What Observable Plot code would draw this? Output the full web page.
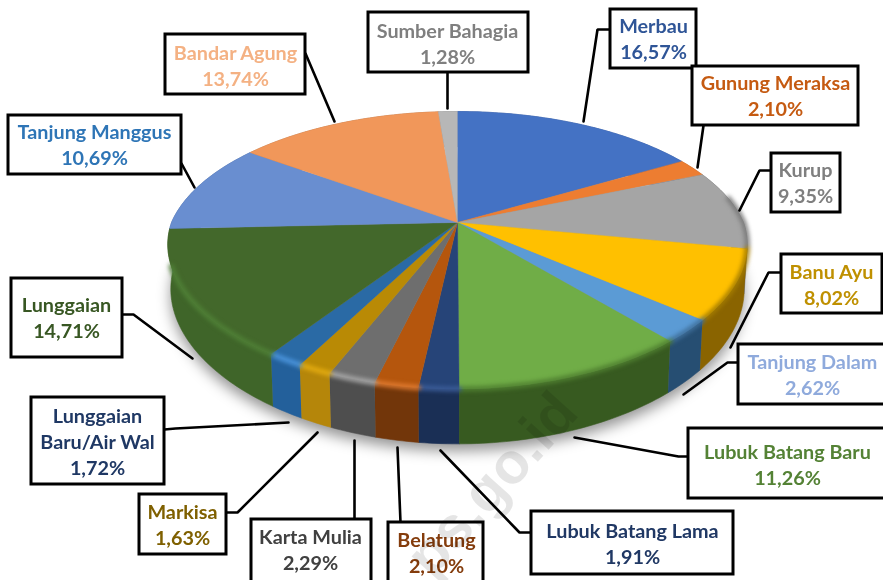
<!DOCTYPE html>
<html><head><meta charset="utf-8">
<style>
html,body{margin:0;padding:0;background:#fff}
svg{display:block}
[aria-description="pie-shadow"]{filter:blur(7px)}
[aria-description="pie-rim"]{filter:blur(2.2px)}
[aria-description="pie-top"],[aria-description="pie-wall"]{filter:blur(.5px)}
[aria-description="label-text"]{filter:blur(.25px)}
[aria-description="watermark"]{filter:blur(.6px)}
</style>
<script src="https://cdn.jsdelivr.net/npm/d3@7"></script>
<script src="https://cdn.jsdelivr.net/npm/@observablehq/plot@0.6"></script>
</head><body><div id="chart"></div>
<script>
const names = ["Merbau","Gunung Meraksa","Kurup","Banu Ayu","Tanjung Dalam","Lubuk Batang Baru","Lubuk Batang Lama","Belatung","Karta Mulia","Markisa","Lunggaian Baru/Air Wal","Lunggaian","Tanjung Manggus","Bandar Agung","Sumber Bahagia"];
const shares = [16.57,2.10,9.35,8.02,2.62,11.26,1.91,2.10,2.29,1.63,1.72,14.71,10.69,13.74,1.28];
const shareLabels = ["16,57%","2,10%","9,35%","8,02%","2,62%","11,26%","1,91%","2,10%","2,29%","1,63%","1,72%","14,71%","10,69%","13,74%","1,28%"];
const topColors = ["#4472C4","#ED7D31","#A5A5A5","#FFC000","#5B9BD5","#70AD47","#264478","#B5560D","#6E6E6E","#B98A05","#2A6AA5","#43682B","#698ED0","#F1975A","#B7B7B7"];
const wallColors = ["#35599a","#b85f24","#6e6e6e","#8a6400","#264e72","#375a20","#1a2f55","#72360a","#4e4e4e","#b5860a","#23609b","#3f6529","#4a6ba5","#b87040","#888888"];
const rimColors = ["#4472C4","#ED7D31","#7a7a7a","#a47c00","#3f6f9a","#4f7f30","#3b5c98","#df7a30","#a8a8a8","#e3ab10","#4a94dc","#4f8036","#698ED0","#F1975A","#B7B7B7"];
const textColors = ["#2f5597","#c55a11","#7f7f7f","#bf9000","#8faadc","#548235","#203864","#843c0c","#404040","#7f6000","#1f3864","#385723","#2e75b6","#f4b183","#7f7f7f"];
const labelLines = names.map((n,i)=> (n==="Lunggaian Baru/Air Wal" ? "Lunggaian\nBaru/Air Wal" : n)+"\n"+shareLabels[i]);

// Label layout, in the order of names
const boxX1 = [610,692,771,781,738,688,531,388,251,139,31,11,8,165,368];
const boxX2 = [696,858,840,882,885,885,733,483,371,226,164,122,181,305,528];
const boxY1 = [9,66,153,254,344,428,511,522,519,494,397,278,115,34,12];
const boxY2 = [68,125,212,313,404,498,574,583,583,554,484,357,174,94,72];
const textX = [653,775,805,831,812,787,632,436,310,182,97,66,94,235,447];
const textY = [37.5,94.5,181,283,373,463,542,551.5,548,523.5,440,316.5,143,64,42];
const leaders = [
  [[610,29],[597,29],[583,121]],[[703,125],[697,167]],[[771,170],[759,170],[739,210]],
  [[781,272],[768,272],[730,347]],[[738,362],[727,362],[683,394]],[[688,456],[678,456],[574,437]],
  [[531,532],[519,532],[440,450]],[[400,522],[397,447]],[[354,519],[354,440]],
  [[226,512],[237,512],[317,432]],[[164,429],[175,428],[288,422]],[[122,314],[133,314],[192,358]],
  [[181,163],[194,187]],[[305,53],[334,121]],[[447,72],[447,108]]
];

// Perspective disc
const cx = 457, k = 0.2, kFront = 0.16;
const topDisc = {a:286, b:133.2, y0:222};
const botDisc = {a:283, b:142.7, y0:265};
function project(d, turn){
  const t = turn*2*Math.PI, u = Math.sin(t), v = -Math.cos(t);
  return {x: cx + d.a*u/(1-(v>0?kFront:k)*v), y: d.y0 + d.b*v/(1-k*v)};
}
const total = d3.sum(shares);
let acc = 0;
const slices = names.map((name,i)=>{const s={name,i,t0:acc/total,t1:(acc+shares[i])/total}; acc+=shares[i]; return s;});
function arc(d,s){
  const n = Math.max(2,Math.ceil((s.t1-s.t0)*360));
  return d3.range(n+1).map(j=>project(d,s.t0+(s.t1-s.t0)*j/n));
}
const topPts = slices.flatMap(s=>[{x:cx,y:topDisc.y0},...arc(topDisc,s)].map(p=>({...p,name:s.name})));
const wallPts = slices.flatMap(s=>[...arc(topDisc,s),...arc(botDisc,s).reverse()].map(p=>({...p,name:s.name,fill:wallColors[s.i]})));
const rimPts = slices.filter(s=>s.t1>0.22&&s.t0<0.7).flatMap(s=>arc(topDisc,{t0:Math.max(s.t0,0.22),t1:Math.min(s.t1,0.7)}).map(p=>({...p,name:s.name,stroke:rimColors[s.i]})));
const shadowPts = d3.range(0,361,2).map(a=>{const p=project(botDisc,a/360);return {x:p.x,y:p.y+7};});

const boxes = names.map((n,i)=>({x1:boxX1[i],x2:boxX2[i],y1:boxY1[i],y2:boxY2[i]}));
const labels = names.map((n,i)=>({x:textX[i],y:textY[i],text:labelLines[i],fill:textColors[i]}));
const leaderPts = leaders.flatMap((l,i)=>l.map(([x,y])=>({x,y,i})));

const chart = Plot.plot({
  width:883,height:580,margin:0,
  x:{domain:[0,883],axis:null},
  y:{domain:[580,0],axis:null},
  color:{domain:names,range:topColors},
  style:{background:"#fff"},
  marks:[
    Plot.line(shadowPts,{x:"x",y:"y",fill:"#000",fillOpacity:.42,stroke:"none",ariaDescription:"pie-shadow"}),
    Plot.line(wallPts,{x:"x",y:"y",z:"name",fill:"fill",stroke:"fill",strokeWidth:.6,ariaDescription:"pie-wall"}),
    Plot.line(topPts,{x:"x",y:"y",z:"name",fill:"name",stroke:"name",strokeWidth:.4,ariaDescription:"pie-top"}),
    Plot.line(rimPts,{x:"x",y:"y",z:"name",stroke:"stroke",strokeWidth:5,ariaDescription:"pie-rim"}),
    Plot.line(leaderPts,{x:"x",y:"y",z:"i",stroke:"#000",strokeWidth:2.6,strokeLinejoin:"miter"}),
    Plot.rect(boxes,{x1:"x1",x2:"x2",y1:"y1",y2:"y2",fill:"#fff",stroke:"#000",strokeWidth:3}),
    Plot.text(labels,{x:"x",y:"y",text:"text",fill:"fill",fontFamily:"Lato",fontWeight:"bold",fontSize:19.8,lineHeight:1.31,ariaDescription:"label-text"}),
    Plot.text(["ps.go.id"],{x:()=>580,y:()=>414,text:d=>d,rotate:-48,textAnchor:"end",lineAnchor:"bottom",fontSize:58,fontWeight:"bold",fontFamily:"Liberation Sans",fill:"#000",fillOpacity:.1,ariaDescription:"watermark"})
  ]
});
document.getElementById("chart").append(chart);
</script></body></html>
